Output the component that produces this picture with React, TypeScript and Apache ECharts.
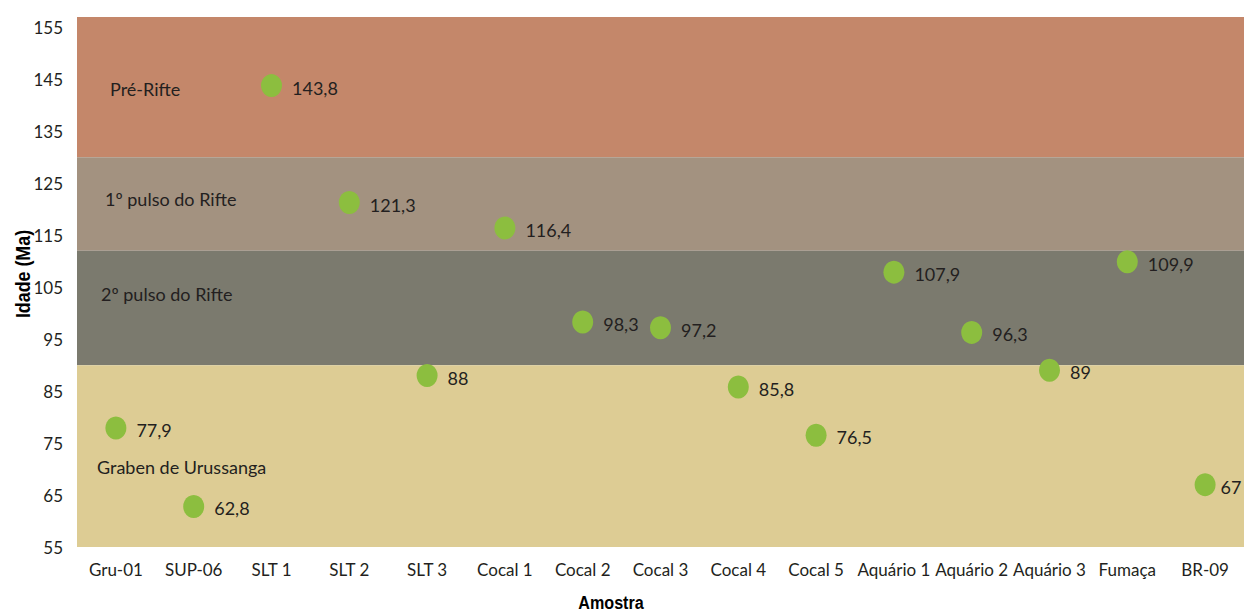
import React, { useEffect, useRef } from "react";
import * as echarts from "echarts";

// Samples and their ages (Ma)
const categories = [
  "Gru-01", "SUP-06", "SLT 1", "SLT 2", "SLT 3",
  "Cocal 1", "Cocal 2", "Cocal 3", "Cocal 4", "Cocal 5",
  "Aquário 1", "Aquário 2", "Aquário 3", "Fumaça", "BR-09",
];
const ages = [77.9, 62.8, 143.8, 121.3, 88, 116.4, 98.3, 97.2, 85.8, 76.5, 107.9, 96.3, 89, 109.9, 67];

// Tectonic phases shown as horizontal bands (Ma)
const bandNames = ["Pré-Rifte", "1º pulso do Rifte", "2º pulso do Rifte", "Graben de Urussanga"];
const bandFrom = [130, 112, 90, 55];
const bandTo = [157, 130, 112, 90];
const bandColors = ["#C4876A", "#A39280", "#7B7A6E", "#DDCC94"];
const bandLabelPos: [number, number][] = [[33, 72], [28, 42], [24, 43], [20, 102]];

const yMin = 55;
const yMax = 157;
const yStep = 10;

const textColor = "#231F20";
const baseFont = "Lato, 'Open Sans', sans-serif";
const titleFont = "'Liberation Sans', Arial, sans-serif";

export default function App() {
  const ref = useRef<HTMLDivElement>(null);

  useEffect(() => {
    if (!ref.current) return;
    const chart = echarts.init(ref.current, null, { renderer: "svg" });

    const areas = bandNames.map((name, i) => [
      {
        name,
        yAxis: bandTo[i],
        itemStyle: { color: bandColors[i] },
        label: {
          show: true,
          position: bandLabelPos[i],
          align: "left",
          verticalAlign: "middle",
          color: textColor,
          fontFamily: baseFont,
          fontSize: 18,
        },
      },
      { yAxis: bandFrom[i] },
    ]);

    // the last point sits at the right edge, so its label hugs the dot
    const points = ages.map((v, i) =>
      i === ages.length - 1 ? { value: v, label: { distance: 5 } } : { value: v }
    );

    chart.setOption({
      animation: false,
      grid: { left: 77, right: 0, top: 17, bottom: 67 },
      xAxis: {
        type: "category",
        data: categories,
        axisLine: { show: false },
        axisTick: { show: false },
        axisLabel: {
          color: textColor,
          fontFamily: baseFont,
          fontSize: 17,
          margin: 14,
          interval: 0,
        },
      },
      yAxis: {
        type: "value",
        min: yMin,
        max: yMax,
        interval: yStep,
        splitLine: { show: false },
        axisLine: { show: false },
        axisTick: { show: false },
        axisLabel: {
          color: textColor,
          fontFamily: baseFont,
          fontSize: 17,
          margin: 14,
          formatter: (v: number) => ((v - yMin) % yStep === 0 ? String(v) : ""),
        },
      },
      graphic: [
        {
          type: "text",
          x: 611,
          y: 603,
          scaleX: 0.85,
          style: {
            text: "Amostra",
            fontFamily: titleFont,
            fontWeight: "bold",
            fontSize: 19,
            fill: "#000",
            align: "center",
            verticalAlign: "middle",
          },
        },
        {
          type: "text",
          x: 22,
          y: 274,
          rotation: Math.PI / 2,
          scaleX: 0.85,
          style: {
            text: "Idade (Ma)",
            fontFamily: titleFont,
            fontWeight: "bold",
            fontSize: 21,
            fill: "#000",
            align: "center",
            verticalAlign: "middle",
          },
        },
      ],
      series: [
        {
          type: "scatter",
          data: points,
          symbol: "circle",
          symbolSize: [21, 23],
          itemStyle: { color: "#8CBE3F", opacity: 1 },
          label: {
            show: true,
            position: "right",
            distance: 10,
            offset: [0, 2],
            color: textColor,
            fontFamily: baseFont,
            fontSize: 18,
            formatter: (p: any) => String(p.value).replace(".", ","),
          },
          markArea: {
            silent: true,
            data: areas,
          },
          z: 3,
        },
      ],
    });

    return () => chart.dispose();
  }, []);

  return (
    <div
      ref={ref}
      style={{ position: "absolute", left: 0, top: 0, width: 1244, height: 614, background: "#fff" }}
    />
  );
}
